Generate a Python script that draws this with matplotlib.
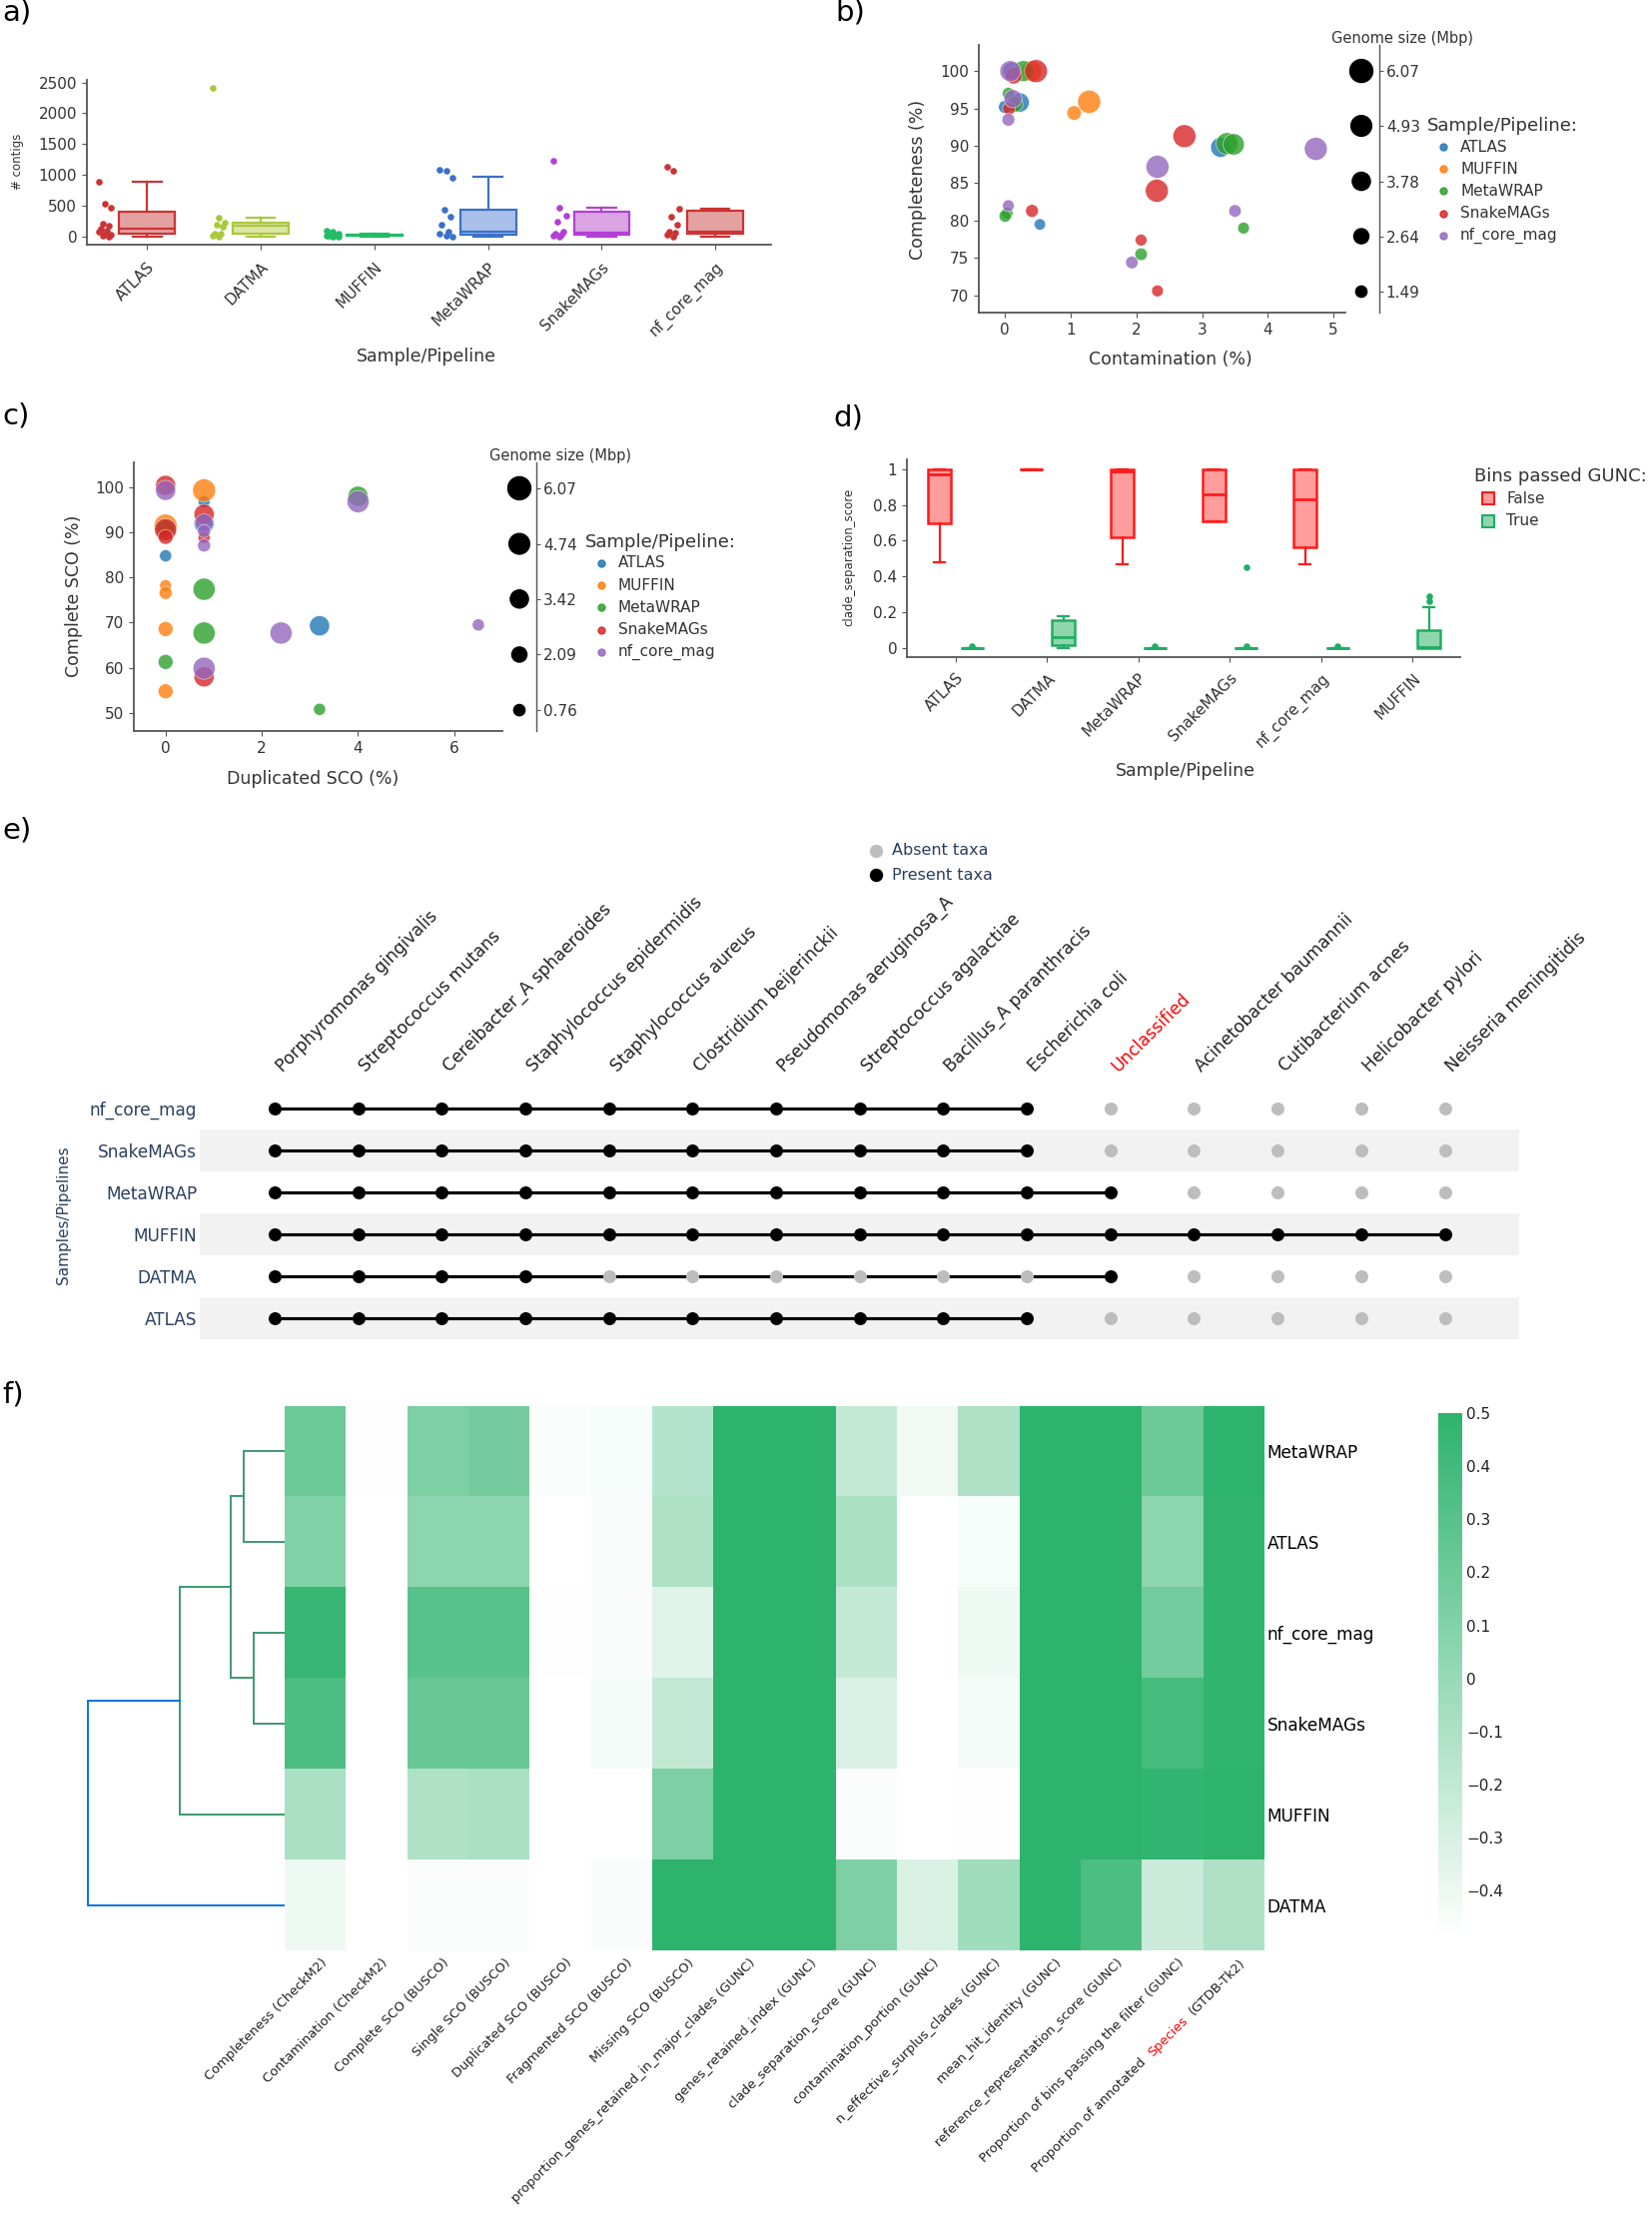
import numpy as np
import matplotlib
matplotlib.use("Agg")
import matplotlib.pyplot as plt
from matplotlib.lines import Line2D
from matplotlib.patches import Rectangle
from matplotlib.colors import LinearSegmentedColormap

plt.rcParams['font.family'] = ['DejaVu Sans']
plt.rcParams['axes.unicode_minus'] = True

# ====================== DATA ======================
# ---- panel a: number of contigs per bin ----
pipelines_a = ['ATLAS', 'DATMA', 'MUFFIN', 'MetaWRAP', 'SnakeMAGs', 'nf_core_mag']
atlas_contigs = [890, 530, 470, 210, 170, 130, 100, 70, 45, 25, 10, 0]
datma_contigs = [2420, 300, 230, 190, 160, 45, 40, 10, 0]
muffin_contigs = [100, 70, 45, 30, 20, 12, 8, 5, 2, 0]
metawrap_contigs = [1085, 1060, 960, 435, 325, 195, 80, 40, 10, 0]
snakemags_contigs = [1225, 470, 340, 245, 80, 40, 20, 10, 0]
nfcore_contigs = [1125, 1060, 450, 320, 195, 80, 55, 30, 0]
contig_whislo = [0, 0, 0, 0, 0, 0]
contig_q1 = [44, 39, 5, 27, 27, 44]
contig_med = [125, 180, 12, 81, 65, 80]
contig_q3 = [406, 223, 30, 433, 406, 416]
contig_whishi = [893, 298, 45, 964, 471, 448]
a_edge = ['#cc3333', '#a9c93a', '#22bb66', '#3a70c8', '#b43fd6', '#cc3333']
a_fill = ['#e4a1a1', '#dde5a6', '#9ee0b5', '#a9c1ea', '#d9a4e1', '#e4a1a1']

# ---- panel b: CheckM2 ----
legend_order = ['ATLAS', 'MUFFIN', 'MetaWRAP', 'SnakeMAGs', 'nf_core_mag']
b_pipeline = ['ATLAS'] * 5 + ['MUFFIN'] * 3 + ['MetaWRAP'] * 9 + ['SnakeMAGs'] * 8 + ['nf_core_mag'] * 8
b_contamination = [0.0, 0.22, 0.53, 3.28, 0.10,
                   0.40, 1.05, 1.28,
                   0.05, 0.28, 0.15, 0.03, 0.00, 2.07, 3.63, 3.38, 3.48,
                   0.13, 0.47, 0.06, 0.41, 2.73, 2.31, 2.07, 2.32,
                   0.08, 0.12, 0.05, 0.05, 2.32, 4.73, 3.50, 1.93]
b_completeness = [95.2, 95.8, 79.5, 89.8, 100.0,
                  100.0, 94.4, 95.9,
                  97.0, 100.0, 95.6, 81.0, 80.6, 75.5, 79.0, 90.3, 90.2,
                  99.4, 100.0, 95.0, 81.3, 91.3, 84.0, 77.4, 70.6,
                  100.0, 96.3, 93.5, 82.0, 87.2, 89.6, 81.3, 74.4]
b_genome_size = [2.0, 4.3, 1.5, 4.5, 3.5,
                 5.0, 2.4, 6.07,
                 1.7, 5.0, 3.0, 1.6, 1.7, 1.8, 1.6, 5.5, 5.2,
                 3.2, 6.0, 1.9, 1.9, 6.0, 6.0, 1.6, 1.6,
                 5.0, 3.8, 1.9, 1.6, 6.0, 6.0, 1.8, 1.8]
b_size_legend = [6.07, 4.93, 3.78, 2.64, 1.49]

# ---- panel c: BUSCO ----
c_pipeline = ['ATLAS'] * 4 + ['MUFFIN'] * 6 + ['MetaWRAP'] * 6 + ['SnakeMAGs'] * 6 + ['nf_core_mag'] * 8
c_duplicated = [0.0, 0.8, 0.8, 3.2,
                0.0, 0.0, 0.0, 0.0, 0.0, 0.8,
                0.0, 0.0, 0.8, 0.8, 3.2, 4.0,
                0.0, 0.0, 0.0, 0.8, 0.8, 0.8,
                0.0, 0.8, 0.8, 0.8, 0.8, 2.4, 4.0, 6.5]
c_complete = [84.8, 96.8, 92.0, 69.3,
              91.5, 78.2, 76.6, 68.6, 54.8, 99.3,
              90.8, 61.3, 77.4, 67.7, 50.8, 98.0,
              100.4, 90.6, 89.0, 94.0, 88.9, 58.0,
              99.3, 92.1, 90.3, 87.1, 59.9, 67.7, 96.8, 69.5]
c_genome_size = [1.0, 0.9, 4.4, 4.4,
                 6.0, 0.9, 1.3, 2.0, 2.0, 6.0,
                 3.3, 2.0, 5.5, 5.5, 1.0, 4.4,
                 4.4, 5.5, 2.0, 4.4, 1.0, 4.4,
                 4.4, 3.4, 1.3, 1.3, 5.5, 5.5, 5.5, 1.0]
c_size_legend = [6.07, 4.74, 3.42, 2.09, 0.76]

# ---- panel d: GUNC clade separation score ----
gunc_pipelines = ['ATLAS', 'DATMA', 'MetaWRAP', 'SnakeMAGs', 'nf_core_mag', 'MUFFIN']
false_lo = [0.48, 1.0, 0.47, 0.71, 0.47, np.nan]
false_q1 = [0.70, 1.0, 0.62, 0.71, 0.565, np.nan]
false_med = [0.97, 1.0, 0.99, 0.86, 0.83, np.nan]
false_q3 = [1.0, 1.0, 1.0, 1.0, 1.0, np.nan]
false_hi = [1.0, 1.0, 1.0, 1.0, 1.0, np.nan]
true_lo = [0.0, 0.0, 0.0, 0.0, 0.0, 0.0]
true_q1 = [0.0, 0.015, 0.0, 0.0, 0.0, 0.0]
true_med = [0.0, 0.06, 0.0, 0.0, 0.0, 0.005]
true_q3 = [0.0, 0.155, 0.0, 0.0, 0.0, 0.10]
true_hi = [0.0, 0.18, 0.0, 0.0, 0.0, 0.23]
true_fliers = [[0.012], [], [0.012], [0.45, 0.012], [0.012], [0.26, 0.29]]

# ---- panel e: taxa presence ----
taxa = ['Porphyromonas gingivalis', 'Streptococcus mutans', 'Cereibacter_A sphaeroides',
        'Staphylococcus epidermidis', 'Staphylococcus aureus', 'Clostridium beijerinckii',
        'Pseudomonas aeruginosa_A', 'Streptococcus agalactiae', 'Bacillus_A paranthracis',
        'Escherichia coli', 'Unclassified', 'Acinetobacter baumannii', 'Cutibacterium acnes',
        'Helicobacter pylori', 'Neisseria meningitidis']
e_pipelines = ['ATLAS', 'DATMA', 'MUFFIN', 'MetaWRAP', 'SnakeMAGs', 'nf_core_mag']
presence_atlas = [1, 1, 1, 1, 1, 1, 1, 1, 1, 1, 0, 0, 0, 0, 0]
presence_datma = [1, 1, 1, 1, 0, 0, 0, 0, 0, 0, 1, 0, 0, 0, 0]
presence_muffin = [1, 1, 1, 1, 1, 1, 1, 1, 1, 1, 1, 1, 1, 1, 1]
presence_metawrap = [1, 1, 1, 1, 1, 1, 1, 1, 1, 1, 1, 0, 0, 0, 0]
presence_snakemags = [1, 1, 1, 1, 1, 1, 1, 1, 1, 1, 0, 0, 0, 0, 0]
presence_nfcore = [1, 1, 1, 1, 1, 1, 1, 1, 1, 1, 0, 0, 0, 0, 0]

# ---- panel f: clustered heatmap ----
metrics = ['Completeness (CheckM2)', 'Contamination (CheckM2)', 'Complete SCO (BUSCO)',
           'Single SCO (BUSCO)', 'Duplicated SCO (BUSCO)', 'Fragmented SCO (BUSCO)',
           'Missing SCO (BUSCO)', 'proportion_genes_retained_in_major_clades (GUNC)',
           'genes_retained_index (GUNC)', 'clade_separation_score (GUNC)',
           'contamination_portion (GUNC)', 'n_effective_surplus_clades (GUNC)',
           'mean_hit_identity (GUNC)', 'reference_representation_score (GUNC)',
           'Proportion of bins passing the filter (GUNC)',
           'Proportion of annotated Species (GTDB-Tk2)']
f_rows = ['MetaWRAP', 'ATLAS', 'nf_core_mag', 'SnakeMAGs', 'MUFFIN', 'DATMA']
heat_metawrap = [0.20, -0.48, 0.12, 0.16, -0.47, -0.45, -0.14, 0.5, 0.5, -0.21, -0.42, -0.11, 0.5, 0.5, 0.20, 0.5]
heat_atlas = [0.10, -0.49, 0.05, 0.05, -0.49, -0.46, -0.11, 0.5, 0.5, -0.09, -0.49, -0.45, 0.5, 0.5, 0.05, 0.48]
heat_nfcore = [0.45, -0.49, 0.30, 0.30, -0.48, -0.46, -0.34, 0.5, 0.5, -0.21, -0.49, -0.41, 0.5, 0.5, 0.17, 0.48]
heat_snakemags = [0.35, -0.49, 0.22, 0.22, -0.49, -0.44, -0.21, 0.5, 0.5, -0.31, -0.49, -0.44, 0.5, 0.5, 0.38, 0.48]
heat_muffin = [-0.09, -0.49, -0.11, -0.09, -0.49, -0.49, 0.12, 0.5, 0.5, -0.47, -0.49, -0.48, 0.5, 0.5, 0.47, 0.5]
heat_datma = [-0.41, -0.49, -0.47, -0.47, -0.49, -0.46, 0.5, 0.5, 0.5, 0.12, -0.31, -0.04, 0.5, 0.35, -0.24, -0.11]
# dendrogram linkage over f_rows indices (new clusters numbered from 6)
link_left = [0, 2, 6, 8, 9]
link_right = [1, 3, 7, 4, 5]
link_height = [0.41, 0.31, 0.54, 1.05, 1.97]
colorbar_ticks = [-0.4, -0.3, -0.2, -0.1, 0, 0.1, 0.2, 0.3, 0.4, 0.5]

# ====================== FIGURE ======================
W, H, DPI = 1654, 2222, 100
PX = 72.0 / DPI
fig = plt.figure(figsize=(W / DPI, H / DPI), dpi=DPI)
fig.patch.set_facecolor('white')
renderer = fig.canvas.get_renderer()

TICK_C = '#333333'
SPINE_C = '#555555'
NAVY = '#2a3f5f'


def add_ax(l, t, r, b):
    return fig.add_axes([l / W, 1 - b / H, (r - l) / W, (b - t) / H])


def ftext(x, y, s, **kw):
    return fig.text(x / W, 1 - y / H, s, **kw)


def fmark(x, y, **kw):
    fig.add_artist(Line2D([x / W], [1 - y / H], transform=fig.transFigure, **kw))


def style(ax):
    for s in ['top', 'right']:
        ax.spines[s].set_visible(False)
    for s in ['left', 'bottom']:
        ax.spines[s].set_color(SPINE_C)
        ax.spines[s].set_linewidth(1.3)
    ax.tick_params(colors=SPINE_C, labelcolor=TICK_C, length=5 * PX, width=0.8, labelsize=11)
    ax.set_facecolor('none')


# panel letters
for lx, ly, lab in [(2, -2, 'a)'), (836, -2, 'b)'), (2, 402, 'c)'), (834, 404, 'd)'),
                    (2, 818, 'e)'), (2, 1383, 'f)')]:
    ftext(lx, ly, lab, fontsize=21, va='top', ha='left', color='black')

# ---------------- panel a ----------------
ax = add_ax(87, 80, 772, 245)
style(ax)
point_lists = [atlas_contigs, datma_contigs, muffin_contigs, metawrap_contigs,
               snakemags_contigs, nfcore_contigs]
for i, pts in enumerate(point_lists):
    jit = np.array([((k * 3) % 7 - 3) * 0.018 for k in range(len(pts))])
    ax.scatter(i - 0.37 + jit, pts, s=(6 * PX) ** 2 * 1.2, color=a_edge[i], lw=0, zorder=3)
stats = [dict(whislo=contig_whislo[i], q1=contig_q1[i], med=contig_med[i],
              q3=contig_q3[i], whishi=contig_whishi[i], fliers=[]) for i in range(6)]
bp = ax.bxp(stats, positions=np.arange(6), widths=0.49, patch_artist=True,
            showfliers=False, capwidths=0.25, manage_ticks=False)
for i in range(6):
    bp['boxes'][i].set(facecolor=a_fill[i], edgecolor=a_edge[i], linewidth=1.6)
    bp['medians'][i].set(color=a_edge[i], linewidth=1.6)
    for w in bp['whiskers'][2 * i:2 * i + 2]:
        w.set(color=a_edge[i], linewidth=1.6)
    for c in bp['caps'][2 * i:2 * i + 2]:
        c.set(color=a_edge[i], linewidth=1.6)
ax.set_xlim(-0.53, 5.49)
ax.set_ylim(-135, 2543)
ax.set_yticks([0, 500, 1000, 1500, 2000, 2500])
ax.set_xticks(np.arange(6))
ax.set_xticklabels(pipelines_a, rotation=45, ha='right', rotation_mode='anchor')
ax.tick_params(axis='x', pad=7)
ftext(18, 162, '# contigs', fontsize=8.5, rotation=90, ha='center', va='center', color=TICK_C)
ftext(427, 357, 'Sample/Pipeline', fontsize=12.5, ha='center', va='center', color=TICK_C)

# ---------------- shared scatter helpers ----------------
pipe_colors = {'ATLAS': '#1f77b4', 'MUFFIN': '#ff7f0e', 'MetaWRAP': '#2ca02c',
               'SnakeMAGs': '#d62728', 'nf_core_mag': '#9467bd'}
SMIN = (11.3 * PX) ** 2
SMAX = (23.0 * PX) ** 2


def size_s(v, vmin, vmax):
    return SMIN + (SMAX - SMIN) * (np.asarray(v) - vmin) / (vmax - vmin)


def bubble_panel(rect, xs, ys, sizes, pipes, legend_vals, xlim, ylim, xticks, yticks,
                 leg_rect, leg_ylim, xlabel, ylabel, xlab_pos, ylab_pos, title_pos,
                 legend_pos):
    ax = add_ax(*rect)
    style(ax)
    vmin, vmax = min(legend_vals), max(legend_vals)
    xs = np.asarray(xs); ys = np.asarray(ys); sizes = np.asarray(sizes)
    pipes = np.asarray(pipes)
    for p in legend_order:
        m = pipes == p
        ax.scatter(xs[m], ys[m], s=size_s(sizes[m], vmin, vmax), color=pipe_colors[p],
                   alpha=0.8, edgecolor='white', linewidth=0.4, zorder=3)
    ax.set_xlim(*xlim); ax.set_ylim(*ylim)
    ax.set_xticks(xticks); ax.set_yticks(yticks)
    ftext(xlab_pos[0], xlab_pos[1], xlabel, fontsize=12.5, ha='center', va='center', color=TICK_C)
    ftext(ylab_pos[0], ylab_pos[1], ylabel, fontsize=12.5, rotation=90, ha='center',
          va='center', color=TICK_C)
    # size legend
    lax = add_ax(*leg_rect)
    lax.set_facecolor('none')
    for s in ['top', 'left', 'bottom']:
        lax.spines[s].set_visible(False)
    lax.spines['right'].set_color(SPINE_C)
    lax.spines['right'].set_linewidth(1.0)
    lax.set_xlim(0, 1); lax.set_ylim(*leg_ylim)
    lax.scatter([0.5] * len(legend_vals), legend_vals, s=size_s(legend_vals, vmin, vmax),
                color='black', zorder=3, clip_on=False)
    lax.set_xticks([])
    lax.yaxis.tick_right()
    lax.set_yticks(legend_vals)
    lax.set_yticklabels(['%.2f' % v for v in legend_vals])
    lax.tick_params(axis='y', colors=SPINE_C, labelcolor=TICK_C, length=4 * PX,
                    labelsize=11, pad=2)
    ftext(title_pos[0], title_pos[1], 'Genome size (Mbp)', fontsize=10.5, ha='center',
          va='center', color=TICK_C)
    # colour legend
    lx, ly = legend_pos
    ftext(lx, ly, 'Sample/Pipeline:', fontsize=13, ha='left', va='center', color=TICK_C)
    for k, p in enumerate(legend_order):
        yy = ly + 21 + 22.2 * k
        fmark(lx + 16, yy, marker='o', markersize=7 * PX, color=pipe_colors[p], alpha=0.85,
              linestyle='none')
        ftext(lx + 33, yy, p, fontsize=11, ha='left', va='center', color=TICK_C)
    return ax


# ---------------- panel b ----------------
bubble_panel((980, 45, 1347, 313), b_contamination, b_completeness, b_genome_size, b_pipeline,
             b_size_legend, (-0.4, 5.18), (67.7, 103.5), [0, 1, 2, 3, 4, 5],
             [70, 75, 80, 85, 90, 95, 100], (1345, 45, 1381, 313), (1.055, 6.61),
             'Contamination (%)', 'Completeness (%)', (1172, 360), (919, 180), (1404, 38),
             (1429, 126))

# ---------------- panel c ----------------
bubble_panel((134, 463, 503, 732), c_duplicated, c_complete, c_genome_size, c_pipeline,
             c_size_legend, (-0.66, 7.0), (46, 105.5), [0, 2, 4, 6],
             [50, 60, 70, 80, 90, 100], (503, 463, 537, 732), (0.26, 6.69),
             'Duplicated SCO (%)', 'Complete SCO (%)', (313, 780), (74, 597), (561, 456),
             (586, 543))

# ---------------- panel d ----------------
ax = add_ax(908, 460, 1462, 658)
style(ax)
F_EDGE, F_FILL = '#ff1a1a', '#ff9c9c'
T_EDGE, T_FILL = '#1fae62', '#8fd6ad'
for i in range(len(gunc_pipelines)):
    if not np.isnan(false_q1[i]):
        st = [dict(whislo=false_lo[i], q1=false_q1[i], med=false_med[i], q3=false_q3[i],
                   whishi=false_hi[i], fliers=[])]
        b = ax.bxp(st, positions=[i - 0.178], widths=0.25, patch_artist=True,
                   showfliers=False, capwidths=0.125, manage_ticks=False)
        b['boxes'][0].set(facecolor=F_FILL, edgecolor=F_EDGE, linewidth=1.8)
        b['medians'][0].set(color=F_EDGE, linewidth=2.0)
        for art in b['whiskers'] + b['caps']:
            art.set(color=F_EDGE, linewidth=1.6)
    st = [dict(whislo=true_lo[i], q1=true_q1[i], med=true_med[i], q3=true_q3[i],
               whishi=true_hi[i], fliers=[])]
    b = ax.bxp(st, positions=[i + 0.178], widths=0.25, patch_artist=True,
               showfliers=False, capwidths=0.125, manage_ticks=False)
    b['boxes'][0].set(facecolor=T_FILL, edgecolor=T_EDGE, linewidth=1.8)
    b['medians'][0].set(color=T_EDGE, linewidth=2.0)
    for art in b['whiskers'] + b['caps']:
        art.set(color=T_EDGE, linewidth=1.6)
    if true_fliers[i]:
        ax.scatter([i + 0.178] * len(true_fliers[i]), true_fliers[i], s=(6 * PX) ** 2 * 1.2,
                   color=T_EDGE, lw=0, zorder=4)
ax.set_xlim(-0.535, 5.52)
ax.set_ylim(-0.052, 1.056)
ax.set_yticks([0, 0.2, 0.4, 0.6, 0.8, 1.0])
ax.set_yticklabels(['0', '0.2', '0.4', '0.6', '0.8', '1'])
ax.set_xticks(np.arange(len(gunc_pipelines)))
ax.set_xticklabels(gunc_pipelines, rotation=45, ha='right', rotation_mode='anchor')
ax.tick_params(axis='x', pad=6)
ftext(850, 558, 'clade_separation_score', fontsize=8.5, rotation=90, ha='center',
      va='center', color=TICK_C)
ftext(1187, 772, 'Sample/Pipeline', fontsize=12.5, ha='center', va='center', color=TICK_C)
ftext(1476, 477, 'Bins passed GUNC:', fontsize=13, ha='left', va='center', color=TICK_C)
for k, (lab, ec, fc) in enumerate([('False', F_EDGE, F_FILL), ('True', T_EDGE, T_FILL)]):
    yy = 499 + 23 * k
    fig.add_artist(Rectangle(((1484) / W, 1 - (yy + 6) / H), 12 / W, 12 / H,
                             transform=fig.transFigure, facecolor=fc, edgecolor=ec, lw=1.5))
    ftext(1508, yy, lab, fontsize=11, ha='left', va='center', color=TICK_C)

# ---------------- panel e ----------------
ax = add_ax(200, 1089, 1521, 1341)
ax.set_facecolor('none')
for s in ax.spines.values():
    s.set_visible(False)
ax.set_xlim(-0.896, 14.89)
ax.set_ylim(-0.5, 5.5)
presence_rows = [presence_atlas, presence_datma, presence_muffin, presence_metawrap,
                 presence_snakemags, presence_nfcore]
for r in range(len(e_pipelines)):
    if r % 2 == 0:
        ax.axhspan(r - 0.5, r + 0.5, color='#f2f2f2', lw=0, zorder=0)
    pres = np.asarray(presence_rows[r])
    idx = np.arange(len(taxa))
    on = idx[pres == 1]
    off = idx[pres == 0]
    ax.plot([on.min(), on.max()], [r, r], color='black', lw=2.25, zorder=2,
            solid_capstyle='butt')
    ax.scatter(off, [r] * len(off), s=(13 * PX) ** 2, color='#bdbdbd', lw=0, zorder=3)
    ax.scatter(on, [r] * len(on), s=(13 * PX) ** 2, color='black', lw=0, zorder=4)
ax.set_xticks([])
ax.set_yticks(np.arange(len(e_pipelines)))
ax.set_yticklabels(e_pipelines, color=NAVY, fontsize=12.2)
ax.tick_params(axis='y', length=0, pad=2)
for j, tname in enumerate(taxa):
    col = 'red' if tname == 'Unclassified' else '#222222'
    ax.annotate(tname, xy=(j, 5.5), xycoords='data', xytext=(8, 15),
                textcoords='offset pixels', rotation=45, ha='left', va='baseline',
                rotation_mode='anchor', fontsize=12.3, color=col, annotation_clip=False)
ftext(64, 1217, 'Samples/Pipelines', fontsize=11, rotation=90, ha='center', va='center',
      color=NAVY)
fmark(877, 852, marker='o', markersize=12 * PX, color='#bdbdbd', linestyle='none')
fmark(877, 876, marker='o', markersize=12 * PX, color='black', linestyle='none')
ftext(893, 852, 'Absent taxa', fontsize=11.5, ha='left', va='center', color=NAVY)
ftext(893, 876, 'Present taxa', fontsize=11.5, ha='left', va='center', color=NAVY)

# ---------------- panel f ----------------
heat = np.array([heat_metawrap, heat_atlas, heat_nfcore, heat_snakemags, heat_muffin, heat_datma])
cmap = LinearSegmentedColormap.from_list('wg', ['#ffffff', '#2db36c'])
hax = add_ax(285, 1407.5, 1266, 1953)
im = hax.imshow(heat, cmap=cmap, vmin=-0.49, vmax=0.5, aspect='auto', interpolation='nearest')
for s in hax.spines.values():
    s.set_visible(False)
hax.set_xticks([])
hax.yaxis.tick_right()
hax.set_yticks(np.arange(len(f_rows)))
hax.set_yticklabels(f_rows, fontsize=12.2, color='black')
hax.tick_params(axis='y', length=0, pad=2)

FS_COL = 9.4
cos45 = np.sqrt(0.5)


def twidth(s):
    t = fig.text(0, 0, s, fontsize=FS_COL)
    w = t.get_window_extent(renderer=renderer).width
    t.remove()
    return w


def col_piece(j, s, shift, color):
    hax.annotate(s, xy=(j, 5.5), xycoords='data',
                 xytext=(5 - shift * cos45, -6 - shift * cos45), textcoords='offset pixels',
                 rotation=45, ha='right', va='top', rotation_mode='anchor', fontsize=FS_COL,
                 color=color, annotation_clip=False)


for j, m in enumerate(metrics):
    if 'Species' in m:
        pre, post = m.split('Species')
        pre = pre.strip(); post = post.strip()
        tail2 = 'Species  ' + post
        full = pre + '  ' + tail2
        col_piece(j, post, 0, '#222222')
        col_piece(j, 'Species', twidth(tail2) - twidth('Species'), 'red')
        col_piece(j, pre, twidth(full) - twidth(pre), '#222222')
    else:
        col_piece(j, m, 0, '#222222')

# dendrogram
dax = add_ax(60, 1407.5, 285, 1953)
dax.set_facecolor('none')
for s in dax.spines.values():
    s.set_visible(False)
dax.set_xticks([]); dax.set_yticks([])
dax.set_ylim(len(f_rows) - 0.5, -0.5)
dax.set_xlim(2.25, 0)
pos_y = {i: float(i) for i in range(len(f_rows))}
pos_h = {i: 0.0 for i in range(len(f_rows))}
nid = len(f_rows)
for k in range(len(link_left)):
    a_, b_, h = link_left[k], link_right[k], link_height[k]
    col = '#0074d9' if k == len(link_left) - 1 else '#3d9970'
    dax.plot([pos_h[a_], h, h, pos_h[b_]], [pos_y[a_], pos_y[a_], pos_y[b_], pos_y[b_]],
             color=col, lw=1.4, solid_joinstyle='miter')
    pos_y[nid] = (pos_y[a_] + pos_y[b_]) / 2
    pos_h[nid] = h
    nid += 1

# colorbar
cax = add_ax(1440, 1415, 1464, 1941)
cb = fig.colorbar(im, cax=cax)
cb.outline.set_visible(False)
cb.set_ticks(colorbar_ticks)
cb.set_ticklabels(['%g' % t if t >= 0 else '\u2212%g' % abs(t) for t in colorbar_ticks])
cax.tick_params(length=0, labelsize=11, pad=3, labelcolor='#222222')

fig.savefig('out.png', dpi=DPI, facecolor='white')
